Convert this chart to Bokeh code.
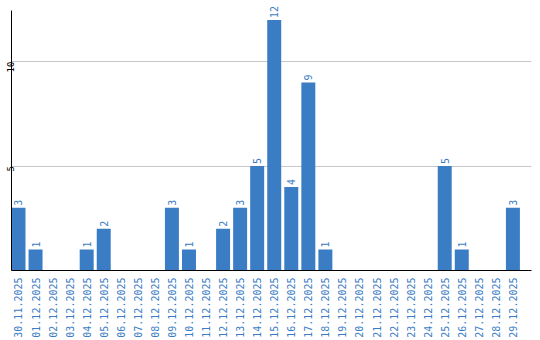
import math
from bokeh.plotting import figure
from bokeh.models import Range1d, FixedTicker, ColumnDataSource
from bokeh.embed import file_html
from bokeh.resources import INLINE
from bokeh.core.properties import value

dates = ["30.11.2025", "01.12.2025", "02.12.2025", "03.12.2025", "04.12.2025",
         "05.12.2025", "06.12.2025", "07.12.2025", "08.12.2025", "09.12.2025",
         "10.12.2025", "11.12.2025", "12.12.2025", "13.12.2025", "14.12.2025",
         "15.12.2025", "16.12.2025", "17.12.2025", "18.12.2025", "19.12.2025",
         "20.12.2025", "21.12.2025", "22.12.2025", "23.12.2025", "24.12.2025",
         "25.12.2025", "26.12.2025", "27.12.2025", "28.12.2025", "29.12.2025"]
counts = [3, 1, 0, 0, 1, 2, 0, 0, 0, 3,
          1, 0, 2, 3, 5, 12, 4, 9, 1, 0,
          0, 0, 0, 0, 0, 5, 1, 0, 0, 3]
y_ticks = [5, 10]

BLUE = "#3b7dc4"
FONT = "DejaVu Sans Mono"

xs = [i + 0.41 for i in range(len(dates))]
src = ColumnDataSource(dict(x=xs, top=counts))
lab_x = [x for x, c in zip(xs, counts) if c > 0]
lab_y = [c for c in counts if c > 0]
lab_t = [str(c) for c in counts if c > 0]
lsrc = ColumnDataSource(dict(x=lab_x, y=lab_y, t=lab_t))

p = figure(width=540, height=340, output_backend="svg", toolbar_location=None,
           x_range=Range1d(0, 30.5), y_range=Range1d(0, 12.93),
           min_border_left=0, min_border_right=9, min_border_top=0, min_border_bottom=0)
p.outline_line_color = None
p.background_fill_color = "white"

p.vbar(x="x", top="top", width=0.82, bottom=0, source=src, color=BLUE, line_color=None)
p.text(x="x", y="y", text="t", source=lsrc, angle=math.pi / 2, text_align="left",
       text_baseline="middle", y_offset=-2, text_color=BLUE,
       text_font=value(FONT), text_font_size="10px")

xa = p.xaxis[0]
xa.ticker = FixedTicker(ticks=xs)
xa.major_label_overrides = {x: d for x, d in zip(xs, dates)}
xa.major_label_orientation = math.pi / 2
xa.major_label_text_color = BLUE
xa.major_label_text_font = FONT
xa.major_label_text_font_size = "10px"
xa.major_tick_line_color = None
xa.minor_tick_line_color = None
xa.major_tick_out = 0
xa.major_label_standoff = 7
xa.axis_line_color = "black"

ya = p.yaxis[0]
ya.ticker = FixedTicker(ticks=y_ticks)
ya.bounds = (0, 12.45)
ya.major_label_orientation = math.pi / 2
ya.major_label_text_color = "black"
ya.major_label_text_font = FONT
ya.major_label_text_font_size = "9px"
ya.major_tick_line_color = None
ya.minor_tick_line_color = None
ya.major_tick_out = 0
ya.major_label_standoff = 1
ya.axis_line_color = "black"

p.xgrid.grid_line_color = None
p.ygrid.ticker = FixedTicker(ticks=y_ticks)
p.ygrid.grid_line_color = "#c8c8c8"

open("out.html", "w").write(file_html(p, INLINE))
